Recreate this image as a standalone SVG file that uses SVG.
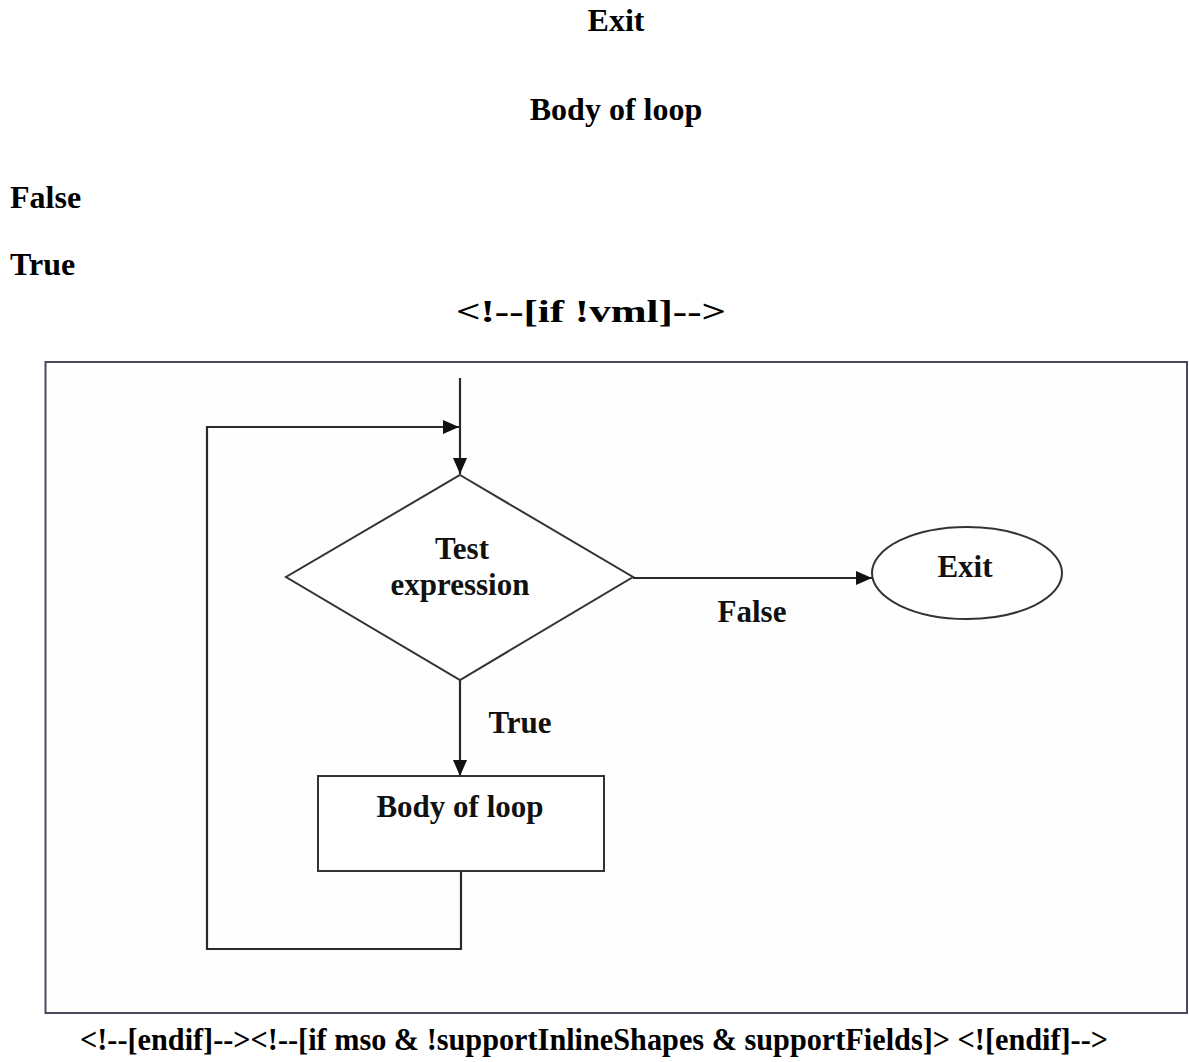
<svg xmlns="http://www.w3.org/2000/svg" width="1189" height="1062" viewBox="0 0 1189 1062">
<style>
.t{font-family:"Liberation Serif","Times New Roman",serif;font-weight:bold;font-size:32px;fill:#000}
.d{font-family:"Liberation Serif","Times New Roman",serif;font-weight:bold;font-size:31px;fill:#111}
.shape{fill:#fff;stroke:#333;stroke-width:2}
.conn{fill:none;stroke:#2a2a2a;stroke-width:2.2}
</style>
<defs>
<marker id="ah" markerUnits="userSpaceOnUse" markerWidth="17" markerHeight="14" refX="16" refY="7" orient="auto">
<path d="M0,0 L16,7 L0,14 z" fill="#111"/>
</marker>
</defs>
<rect width="1189" height="1062" fill="#fff"/>
<g id="page-text">
<text class="t" x="616" y="31" text-anchor="middle">Exit</text>
<text class="t" x="616" y="120" text-anchor="middle">Body of loop</text>
<text class="t" x="10" y="208">False</text>
<text class="t" x="10" y="275">True</text>
<text class="t" x="456" y="322" textLength="270" lengthAdjust="spacingAndGlyphs">&lt;!--[if !vml]--&gt;</text>
<text class="t" x="80" y="1050" textLength="1028" lengthAdjust="spacingAndGlyphs">&lt;!--[endif]--&gt;&lt;!--[if mso &amp; !supportInlineShapes &amp; supportFields]&gt; &lt;![endif]--&gt;</text>
</g>
<g id="frame">
<rect x="45.5" y="362" width="1141.5" height="651" fill="#fefefe" stroke="#4a4a5c" stroke-width="2"/>
</g>
<g id="connectors">
<line class="conn" x1="460" y1="378" x2="460" y2="474" marker-end="url(#ah)"/>
<polyline class="conn" points="461,872 461,949 207,949 207,427 459,427" marker-end="url(#ah)"/>
<line class="conn" x1="460" y1="680" x2="460" y2="776" marker-end="url(#ah)"/>
<line class="conn" x1="633" y1="578" x2="872" y2="578" marker-end="url(#ah)"/>
<text class="d" x="752" y="622" text-anchor="middle">False</text>
<text class="d" x="520" y="733" text-anchor="middle">True</text>
</g>
<g id="test-expression">
<polygon class="shape" points="460,475 633,577 460,680 286,577"/>
<text class="d" x="462" y="559" text-anchor="middle">Test</text>
<text class="d" x="460" y="595" text-anchor="middle">expression</text>
</g>
<g id="exit">
<ellipse class="shape" cx="967" cy="573" rx="95" ry="46"/>
<text class="d" x="965" y="577" text-anchor="middle">Exit</text>
</g>
<g id="body-of-loop">
<rect class="shape" x="318" y="776" width="286" height="95"/>
<text class="d" x="460" y="817" text-anchor="middle">Body of loop</text>
</g>
</svg>
